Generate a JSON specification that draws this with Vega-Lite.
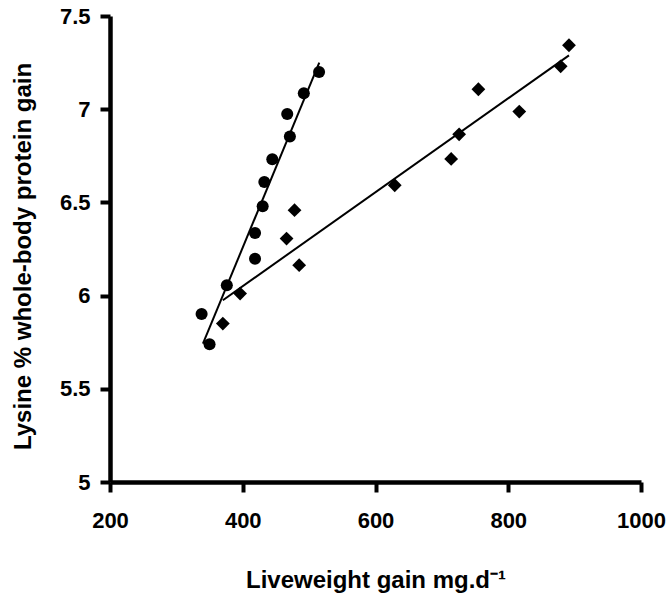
{
  "$schema": "https://vega.github.io/schema/vega-lite/v6.json",
  "width": 531,
  "height": 466,
  "autosize": "none",
  "padding": {"left": 110, "top": 16, "right": 30, "bottom": 114},
  "background": "white",
  "config": {"view": {"stroke": null}},
  "datasets": {
    "pts": [
      {"series": "A", "gain": 515, "lys": 7.2},
      {"series": "A", "gain": 492, "lys": 7.085},
      {"series": "A", "gain": 467, "lys": 6.974},
      {"series": "A", "gain": 471, "lys": 6.853},
      {"series": "A", "gain": 444.5, "lys": 6.731},
      {"series": "A", "gain": 432.5, "lys": 6.609},
      {"series": "A", "gain": 430, "lys": 6.479},
      {"series": "A", "gain": 418.5, "lys": 6.336},
      {"series": "A", "gain": 418.5, "lys": 6.198},
      {"series": "A", "gain": 376, "lys": 6.055},
      {"series": "A", "gain": 338, "lys": 5.901},
      {"series": "A", "gain": 350, "lys": 5.739},
      {"series": "B", "gain": 478, "lys": 6.458},
      {"series": "B", "gain": 466, "lys": 6.306},
      {"series": "B", "gain": 485, "lys": 6.163},
      {"series": "B", "gain": 396, "lys": 6.011},
      {"series": "B", "gain": 370, "lys": 5.85},
      {"series": "B", "gain": 891.5, "lys": 7.343},
      {"series": "B", "gain": 879, "lys": 7.23},
      {"series": "B", "gain": 755, "lys": 7.107},
      {"series": "B", "gain": 816.6, "lys": 6.987},
      {"series": "B", "gain": 726, "lys": 6.865},
      {"series": "B", "gain": 714, "lys": 6.733},
      {"series": "B", "gain": 629, "lys": 6.592}
    ],
    "fits": [
      {"series": "A", "gain": 340, "lys": 5.742},
      {"series": "A", "gain": 515.3, "lys": 7.25},
      {"series": "B", "gain": 370, "lys": 5.975},
      {"series": "B", "gain": 891.5, "lys": 7.289}
    ]
  },
  "encoding": {
    "x": {
      "field": "gain",
      "type": "quantitative",
      "scale": {"domain": [200, 1000], "nice": false, "zero": false},
      "axis": {
        "values": [200, 400, 600, 800, 1000],
        "labelExpr": "'' + datum.value",
        "labelFlush": false,
        "labelOverlap": false,
        "grid": false,
        "domain": true,
        "ticks": true,
        "domainColor": "black",
        "domainWidth": 4.5,
        "tickColor": "black",
        "tickWidth": 4,
        "tickSize": 10,
        "labelFont": "Liberation Sans",
        "labelFontWeight": "bold",
        "labelFontSize": 22,
        "labelColor": "black",
        "labelPadding": 18,
        "titleFont": "Liberation Sans",
        "titleFontWeight": "bold",
        "titleFontSize": 24,
        "titleColor": "black",
        "title": "Liveweight gain mg.d⁻¹",
        "titleBaseline": "alphabetic",
        "titleY": 105
      }
    },
    "y": {
      "field": "lys",
      "type": "quantitative",
      "scale": {"domain": [5, 7.5], "nice": false, "zero": false},
      "axis": {
        "values": [5, 5.5, 6, 6.5, 7, 7.5],
        "labelExpr": "'' + datum.value",
        "labelFlush": false,
        "labelOverlap": false,
        "grid": false,
        "domain": true,
        "ticks": true,
        "domainColor": "black",
        "domainWidth": 4.5,
        "tickColor": "black",
        "tickWidth": 4,
        "tickSize": 10,
        "labelFont": "Liberation Sans",
        "labelFontWeight": "bold",
        "labelFontSize": 22,
        "labelColor": "black",
        "labelPadding": 10,
        "titleFont": "Liberation Sans",
        "titleFontWeight": "bold",
        "titleFontSize": 24,
        "titleColor": "black",
        "title": "Lysine % whole-body protein gain",
        "titleBaseline": "alphabetic",
        "titleAngle": -90,
        "titleX": -80,
        "titleY": 240
      }
    }
  },
  "layer": [
    {
      "data": {"name": "fits"},
      "mark": {"type": "line", "color": "black", "strokeWidth": 2},
      "encoding": {"detail": {"field": "series"}}
    },
    {
      "data": {"name": "pts"},
      "mark": {"type": "point", "filled": true, "color": "black", "opacity": 1},
      "encoding": {
        "shape": {
          "field": "series",
          "type": "nominal",
          "scale": {"domain": ["A", "B"], "range": ["circle", "diamond"]},
          "legend": null
        },
        "size": {
          "field": "series",
          "type": "nominal",
          "scale": {"domain": ["A", "B"], "range": [145, 190]},
          "legend": null
        }
      }
    }
  ]
}
